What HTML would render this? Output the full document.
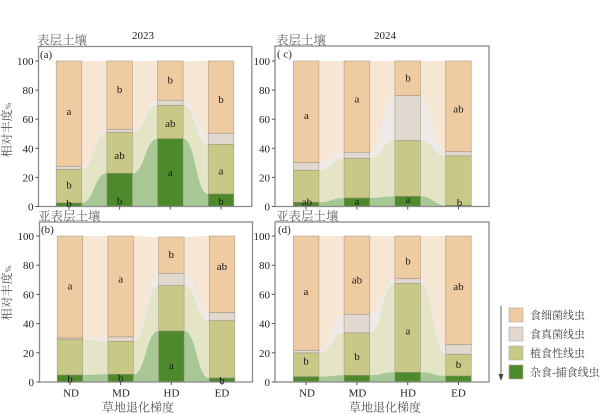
<!DOCTYPE html>
<html><head><meta charset="utf-8">
<style>
html,body{margin:0;padding:0;background:#fff;}
svg{display:block;}
.n{font-family:"Liberation Serif",serif;font-size:11px;fill:#222;}
.c{font-family:"Liberation Serif","Noto Serif CJK SC",serif;}
.bl{font-family:"Liberation Serif",serif;font-size:11px;fill:#1a1a1a;text-anchor:middle;}
</style></head>
<body>
<svg width="600" height="414" viewBox="0 0 600 414" xmlns="http://www.w3.org/2000/svg">
<rect width="600" height="414" fill="#fff"/>

<!-- ===== Panel (a) ===== -->
<g>
<rect x="56.2" y="61" width="177.6" height="145.5" fill="#F7E6D4"/>
<path d="M56.2,166.3 H81.7 C94.3,166.3 94.3,129.3 106.9,129.3 H132.4 C145,129.3 145,100.3 157.6,100.3 H183.1 C195.7,100.3 195.7,133.3 208.3,133.3 H233.8 V206.5 H56.2 Z" fill="#EEEAE7"/>
<path d="M56.2,169.3 H81.7 C94.3,169.3 94.3,132.3 106.9,132.3 H132.4 C145,132.3 145,105.3 157.6,105.3 H183.1 C195.7,105.3 195.7,144.3 208.3,144.3 H233.8 V206.5 H56.2 Z" fill="#E3E5C6"/>
<path d="M56.2,203 H81.7 C94.3,203 94.3,173.3 106.9,173.3 H132.4 C145,173.3 145,138.7 157.6,138.7 H183.1 C195.7,138.7 195.7,194 208.3,194 H233.8 V206.5 H56.2 Z" fill="#A7C895"/>
<g stroke="#9c8f80" stroke-width="0.7" stroke-opacity="0.7">
<rect x="56.2" y="61" width="25.5" height="105.3" fill="#EFCBA1"/>
<rect x="56.2" y="166.3" width="25.5" height="3" fill="#E1D8D0"/>
<rect x="56.2" y="169.3" width="25.5" height="33.7" fill="#C8C987"/>
<rect x="56.2" y="203" width="25.5" height="3.5" fill="#4C8A2C"/>
<rect x="106.9" y="61" width="25.5" height="68.3" fill="#EFCBA1"/>
<rect x="106.9" y="129.3" width="25.5" height="3" fill="#E1D8D0"/>
<rect x="106.9" y="132.3" width="25.5" height="41" fill="#C8C987"/>
<rect x="106.9" y="173.3" width="25.5" height="33.2" fill="#4C8A2C"/>
<rect x="157.6" y="61" width="25.5" height="39.3" fill="#EFCBA1"/>
<rect x="157.6" y="100.3" width="25.5" height="5" fill="#E1D8D0"/>
<rect x="157.6" y="105.3" width="25.5" height="33.4" fill="#C8C987"/>
<rect x="157.6" y="138.7" width="25.5" height="67.8" fill="#4C8A2C"/>
<rect x="208.3" y="61" width="25.5" height="72.3" fill="#EFCBA1"/>
<rect x="208.3" y="133.3" width="25.5" height="11" fill="#E1D8D0"/>
<rect x="208.3" y="144.3" width="25.5" height="49.7" fill="#C8C987"/>
<rect x="208.3" y="194" width="25.5" height="12.5" fill="#4C8A2C"/>
</g>
<rect x="38.5" y="46.5" width="213.3" height="160" fill="none" stroke="#8a8a8a" stroke-width="1.3"/>
<g stroke="#555" stroke-width="1">
<line x1="35.3" y1="206.5" x2="38.5" y2="206.5"/><line x1="35.3" y1="177.4" x2="38.5" y2="177.4"/><line x1="35.3" y1="148.3" x2="38.5" y2="148.3"/><line x1="35.3" y1="119.2" x2="38.5" y2="119.2"/><line x1="35.3" y1="90.1" x2="38.5" y2="90.1"/><line x1="35.3" y1="61" x2="38.5" y2="61"/>
<line x1="69" y1="206.5" x2="69" y2="209.5"/><line x1="119.6" y1="206.5" x2="119.6" y2="209.5"/><line x1="170.3" y1="206.5" x2="170.3" y2="209.5"/><line x1="221" y1="206.5" x2="221" y2="209.5"/>
</g>
<g class="n" text-anchor="end">
<text x="33.5" y="210.5">0</text><text x="33.5" y="181.4">20</text><text x="33.5" y="152.3">40</text><text x="33.5" y="123.2">60</text><text x="33.5" y="94.1">80</text><text x="33.5" y="65">100</text>
</g>
<text class="bl" x="69" y="115.2">a</text><text class="bl" x="69" y="188.5">b</text><text class="bl" x="69" y="207">b</text>
<text class="bl" x="119.6" y="93.2">b</text><text class="bl" x="119.6" y="159.2">ab</text><text class="bl" x="119.6" y="204.5">b</text>
<text class="bl" x="170.3" y="83.5">b</text><text class="bl" x="170.3" y="126.8">ab</text><text class="bl" x="170.3" y="176.2">a</text>
<text class="bl" x="221" y="102.8">b</text><text class="bl" x="221" y="174.5">a</text><text class="bl" x="221" y="205.2">b</text>
<text x="40" y="57.8" class="n">(a)</text>
<text x="37" y="44.5" class="c" font-size="12.5" fill="#666">表层土壤</text>
<text x="143" y="39" class="n" text-anchor="middle">2023</text>
</g>

<!-- ===== Panel (c) ===== -->
<g>
<rect x="293.3" y="61" width="178" height="145.5" fill="#F7E6D4"/>
<path d="M293.3,162.7 H318.9 C331.5,162.7 331.5,152.3 344.1,152.3 H369.7 C382.3,152.3 382.3,95.7 394.9,95.7 H420.5 C433.1,95.7 433.1,151.7 445.7,151.7 H471.3 V206.5 H293.3 Z" fill="#EEEAE7"/>
<path d="M293.3,170.3 H318.9 C331.5,170.3 331.5,158.3 344.1,158.3 H369.7 C382.3,158.3 382.3,140.7 394.9,140.7 H420.5 C433.1,140.7 433.1,156 445.7,156 H471.3 V206.5 H293.3 Z" fill="#E3E5C6"/>
<path d="M293.3,202.3 H318.9 C331.5,202.3 331.5,198 344.1,198 H369.7 C382.3,198 382.3,196.3 394.9,196.3 H420.5 C433.1,196.3 433.1,205.3 445.7,205.3 H471.3 V206.5 H293.3 Z" fill="#A7C895"/>
<g stroke="#9c8f80" stroke-width="0.7" stroke-opacity="0.7">
<rect x="293.3" y="61" width="25.6" height="101.7" fill="#EFCBA1"/>
<rect x="293.3" y="162.7" width="25.6" height="7.6" fill="#E1D8D0"/>
<rect x="293.3" y="170.3" width="25.6" height="32" fill="#C8C987"/>
<rect x="293.3" y="202.3" width="25.6" height="4.2" fill="#4C8A2C"/>
<rect x="344.1" y="61" width="25.6" height="91.3" fill="#EFCBA1"/>
<rect x="344.1" y="152.3" width="25.6" height="6" fill="#E1D8D0"/>
<rect x="344.1" y="158.3" width="25.6" height="39.7" fill="#C8C987"/>
<rect x="344.1" y="198" width="25.6" height="8.5" fill="#4C8A2C"/>
<rect x="394.9" y="61" width="25.6" height="34.7" fill="#EFCBA1"/>
<rect x="394.9" y="95.7" width="25.6" height="45" fill="#E1D8D0"/>
<rect x="394.9" y="140.7" width="25.6" height="55.6" fill="#C8C987"/>
<rect x="394.9" y="196.3" width="25.6" height="10.2" fill="#4C8A2C"/>
<rect x="445.7" y="61" width="25.6" height="90.7" fill="#EFCBA1"/>
<rect x="445.7" y="151.7" width="25.6" height="4.3" fill="#E1D8D0"/>
<rect x="445.7" y="156" width="25.6" height="49.3" fill="#C8C987"/>
<rect x="445.7" y="205.3" width="25.6" height="1.2" fill="#4C8A2C"/>
</g>
<rect x="275" y="46" width="214" height="160.5" fill="none" stroke="#8a8a8a" stroke-width="1.3"/>
<g stroke="#555" stroke-width="1">
<line x1="271.8" y1="206.5" x2="275" y2="206.5"/><line x1="271.8" y1="177.4" x2="275" y2="177.4"/><line x1="271.8" y1="148.3" x2="275" y2="148.3"/><line x1="271.8" y1="119.2" x2="275" y2="119.2"/><line x1="271.8" y1="90.1" x2="275" y2="90.1"/><line x1="271.8" y1="61" x2="275" y2="61"/>
<line x1="306.1" y1="206.5" x2="306.1" y2="209.5"/><line x1="356.9" y1="206.5" x2="356.9" y2="209.5"/><line x1="407.7" y1="206.5" x2="407.7" y2="209.5"/><line x1="458.5" y1="206.5" x2="458.5" y2="209.5"/>
</g>
<g class="n" text-anchor="end">
<text x="270" y="210.5">0</text><text x="270" y="181.4">20</text><text x="270" y="152.3">40</text><text x="270" y="123.2">60</text><text x="270" y="94.1">80</text><text x="270" y="65">100</text>
</g>
<text class="bl" x="306.5" y="119.2">a</text><text class="bl" x="307" y="205.5">ab</text>
<text class="bl" x="357" y="102.5">a</text><text class="bl" x="357" y="204.8">a</text>
<text class="bl" x="408" y="81.5">b</text><text class="bl" x="408" y="202.8">a</text>
<text class="bl" x="458.5" y="112.5">ab</text><text class="bl" x="459.5" y="206.2">b</text>
<text x="277" y="57.5" class="n">( c)</text>
<text x="276" y="44.5" class="c" font-size="12.5" fill="#666">表层土壤</text>
<text x="385" y="39" class="n" text-anchor="middle">2024</text>
</g>

<!-- ===== Panel (b) ===== -->
<g>
<path d="M57.2,236 H82.7 C95.3,236 95.3,236 107.9,236 H133.4 C146,236 146,237 158.6,237 H184.1 C196.7,237 196.7,236 209.3,236 H234.8 V382 H57.2 Z" fill="#F7E6D4"/>
<path d="M57.2,338 H82.7 C95.3,338 95.3,337 107.9,337 H133.4 C146,337 146,273.3 158.6,273.3 H184.1 C196.7,273.3 196.7,312.7 209.3,312.7 H234.8 V382 H57.2 Z" fill="#EEEAE7"/>
<path d="M57.2,339.3 H82.7 C95.3,339.3 95.3,341.3 107.9,341.3 H133.4 C146,341.3 146,285.7 158.6,285.7 H184.1 C196.7,285.7 196.7,320.7 209.3,320.7 H234.8 V382 H57.2 Z" fill="#E3E5C6"/>
<path d="M57.2,375 H82.7 C95.3,375 95.3,374.3 107.9,374.3 H133.4 C146,374.3 146,331 158.6,331 H184.1 C196.7,331 196.7,378 209.3,378 H234.8 V382 H57.2 Z" fill="#A7C895"/>
<g stroke="#9c8f80" stroke-width="0.7" stroke-opacity="0.7">
<rect x="57.2" y="236" width="25.5" height="102" fill="#EFCBA1"/>
<rect x="57.2" y="338" width="25.5" height="1.3" fill="#E1D8D0"/>
<rect x="57.2" y="339.3" width="25.5" height="35.7" fill="#C8C987"/>
<rect x="57.2" y="375" width="25.5" height="7" fill="#4C8A2C"/>
<rect x="107.9" y="236" width="25.5" height="101" fill="#EFCBA1"/>
<rect x="107.9" y="337" width="25.5" height="4.3" fill="#E1D8D0"/>
<rect x="107.9" y="341.3" width="25.5" height="33" fill="#C8C987"/>
<rect x="107.9" y="374.3" width="25.5" height="7.7" fill="#4C8A2C"/>
<rect x="158.6" y="237" width="25.5" height="36.3" fill="#EFCBA1"/>
<rect x="158.6" y="273.3" width="25.5" height="12.4" fill="#E1D8D0"/>
<rect x="158.6" y="285.7" width="25.5" height="45.3" fill="#C8C987"/>
<rect x="158.6" y="331" width="25.5" height="51" fill="#4C8A2C"/>
<rect x="209.3" y="236" width="25.5" height="76.7" fill="#EFCBA1"/>
<rect x="209.3" y="312.7" width="25.5" height="8" fill="#E1D8D0"/>
<rect x="209.3" y="320.7" width="25.5" height="57.3" fill="#C8C987"/>
<rect x="209.3" y="378" width="25.5" height="4" fill="#4C8A2C"/>
</g>
<rect x="39.5" y="222" width="213" height="160" fill="none" stroke="#8a8a8a" stroke-width="1.3"/>
<g stroke="#555" stroke-width="1">
<line x1="36.3" y1="382" x2="39.5" y2="382"/><line x1="36.3" y1="352.8" x2="39.5" y2="352.8"/><line x1="36.3" y1="323.6" x2="39.5" y2="323.6"/><line x1="36.3" y1="294.4" x2="39.5" y2="294.4"/><line x1="36.3" y1="265.2" x2="39.5" y2="265.2"/><line x1="36.3" y1="236" x2="39.5" y2="236"/>
<line x1="70" y1="382" x2="70" y2="385"/><line x1="120.6" y1="382" x2="120.6" y2="385"/><line x1="171.3" y1="382" x2="171.3" y2="385"/><line x1="222" y1="382" x2="222" y2="385"/>
</g>
<g class="n" text-anchor="end">
<text x="34" y="386">0</text><text x="34" y="356.8">20</text><text x="34" y="327.6">40</text><text x="34" y="298.4">60</text><text x="34" y="269.2">80</text><text x="34" y="240">100</text>
</g>
<text class="bl" x="70" y="289.5">a</text><text class="bl" x="70" y="382.5">b</text>
<text class="bl" x="120.7" y="282.5">a</text><text class="bl" x="120.7" y="381.5">b</text>
<text class="bl" x="171.3" y="258.2">b</text><text class="bl" x="171.3" y="369.2">a</text>
<text class="bl" x="222" y="270.2">ab</text><text class="bl" x="222" y="384.2">b</text>
<text x="41" y="233" class="n">(b)</text>
<text x="38" y="220.5" class="c" font-size="12.5" fill="#666">亚表层土壤</text>
<g class="n" text-anchor="middle">
<text x="71" y="396.5">ND</text><text x="121" y="396.5">MD</text><text x="171.5" y="396.5">HD</text><text x="222" y="396.5">ED</text>
</g>
<text x="138" y="411.5" class="c" font-size="12" fill="#555" text-anchor="middle">草地退化梯度</text>
</g>

<!-- ===== Panel (d) ===== -->
<g>
<rect x="293.3" y="236" width="178" height="146" fill="#F7E6D4"/>
<path d="M293.3,350.3 H318.9 C331.5,350.3 331.5,314.3 344.1,314.3 H369.7 C382.3,314.3 382.3,278.7 394.9,278.7 H420.5 C433.1,278.7 433.1,344.7 445.7,344.7 H471.3 V382 H293.3 Z" fill="#EEEAE7"/>
<path d="M293.3,353 H318.9 C331.5,353 331.5,333 344.1,333 H369.7 C382.3,333 382.3,283.3 394.9,283.3 H420.5 C433.1,283.3 433.1,354.3 445.7,354.3 H471.3 V382 H293.3 Z" fill="#E3E5C6"/>
<path d="M293.3,376.7 H318.9 C331.5,376.7 331.5,375.3 344.1,375.3 H369.7 C382.3,375.3 382.3,372.3 394.9,372.3 H420.5 C433.1,372.3 433.1,376 445.7,376 H471.3 V382 H293.3 Z" fill="#A7C895"/>
<g stroke="#9c8f80" stroke-width="0.7" stroke-opacity="0.7">
<rect x="293.3" y="236" width="25.6" height="114.3" fill="#EFCBA1"/>
<rect x="293.3" y="350.3" width="25.6" height="2.7" fill="#E1D8D0"/>
<rect x="293.3" y="353" width="25.6" height="23.7" fill="#C8C987"/>
<rect x="293.3" y="376.7" width="25.6" height="5.3" fill="#4C8A2C"/>
<rect x="344.1" y="236" width="25.6" height="78.3" fill="#EFCBA1"/>
<rect x="344.1" y="314.3" width="25.6" height="18.7" fill="#E1D8D0"/>
<rect x="344.1" y="333" width="25.6" height="42.3" fill="#C8C987"/>
<rect x="344.1" y="375.3" width="25.6" height="6.7" fill="#4C8A2C"/>
<rect x="394.9" y="236" width="25.6" height="42.7" fill="#EFCBA1"/>
<rect x="394.9" y="278.7" width="25.6" height="4.6" fill="#E1D8D0"/>
<rect x="394.9" y="283.3" width="25.6" height="89" fill="#C8C987"/>
<rect x="394.9" y="372.3" width="25.6" height="9.7" fill="#4C8A2C"/>
<rect x="445.7" y="236" width="25.6" height="108.7" fill="#EFCBA1"/>
<rect x="445.7" y="344.7" width="25.6" height="9.6" fill="#E1D8D0"/>
<rect x="445.7" y="354.3" width="25.6" height="21.7" fill="#C8C987"/>
<rect x="445.7" y="376" width="25.6" height="6" fill="#4C8A2C"/>
</g>
<rect x="275" y="222" width="214" height="160" fill="none" stroke="#8a8a8a" stroke-width="1.3"/>
<g stroke="#555" stroke-width="1">
<line x1="271.8" y1="382" x2="275" y2="382"/><line x1="271.8" y1="352.8" x2="275" y2="352.8"/><line x1="271.8" y1="323.6" x2="275" y2="323.6"/><line x1="271.8" y1="294.4" x2="275" y2="294.4"/><line x1="271.8" y1="265.2" x2="275" y2="265.2"/><line x1="271.8" y1="236" x2="275" y2="236"/>
<line x1="306.1" y1="382" x2="306.1" y2="385"/><line x1="356.9" y1="382" x2="356.9" y2="385"/><line x1="407.7" y1="382" x2="407.7" y2="385"/><line x1="458.5" y1="382" x2="458.5" y2="385"/>
</g>
<g class="n" text-anchor="end">
<text x="270" y="386">0</text><text x="270" y="356.8">20</text><text x="270" y="327.6">40</text><text x="270" y="298.4">60</text><text x="270" y="269.2">80</text><text x="270" y="240">100</text>
</g>
<text class="bl" x="306" y="295.2">a</text><text class="bl" x="306" y="364.5">b</text>
<text class="bl" x="357" y="283.5">ab</text><text class="bl" x="357" y="360.2">b</text>
<text class="bl" x="408" y="264.5">b</text><text class="bl" x="408" y="334.5">a</text>
<text class="bl" x="458.5" y="290.2">ab</text><text class="bl" x="458.5" y="368.2">b</text>
<text x="278" y="233" class="n">(d)</text>
<text x="276" y="220.5" class="c" font-size="12.5" fill="#666">亚表层土壤</text>
<g class="n" text-anchor="middle">
<text x="307" y="396.5">ND</text><text x="357.5" y="396.5">MD</text><text x="408" y="396.5">HD</text><text x="458.5" y="396.5">ED</text>
</g>
<text x="385" y="411.5" class="c" font-size="12" fill="#555" text-anchor="middle">草地退化梯度</text>
</g>

<!-- Y axis titles -->
<text transform="translate(11,130) rotate(-90)" class="c" font-size="12" fill="#555" text-anchor="middle">相对丰度<tspan font-size="8">%</tspan></text>
<text transform="translate(11,293) rotate(-90)" class="c" font-size="12" fill="#555" text-anchor="middle">相对丰度<tspan font-size="8">%</tspan></text>

<!-- Legend -->
<line x1="501" y1="306" x2="501" y2="377" stroke="#666" stroke-width="1"/>
<path d="M498.5,374 L501,381 L503.5,374 Z" fill="#444"/>
<g stroke="#aaa" stroke-width="0.6">
<rect x="509" y="308" width="14" height="14" fill="#EFCBA1"/>
<rect x="509" y="327" width="14" height="14" fill="#E1D8D0"/>
<rect x="509" y="346" width="14" height="14" fill="#C8C987"/>
<rect x="509" y="365" width="14" height="14" fill="#4C8A2C"/>
</g>
<g class="c" font-size="11" fill="#444">
<text x="530" y="319">食细菌线虫</text>
<text x="530" y="338">食真菌线虫</text>
<text x="530" y="357">植食性线虫</text>
<text x="530" y="376">杂食-捕食线虫</text>
</g>
</svg>
</body></html>
